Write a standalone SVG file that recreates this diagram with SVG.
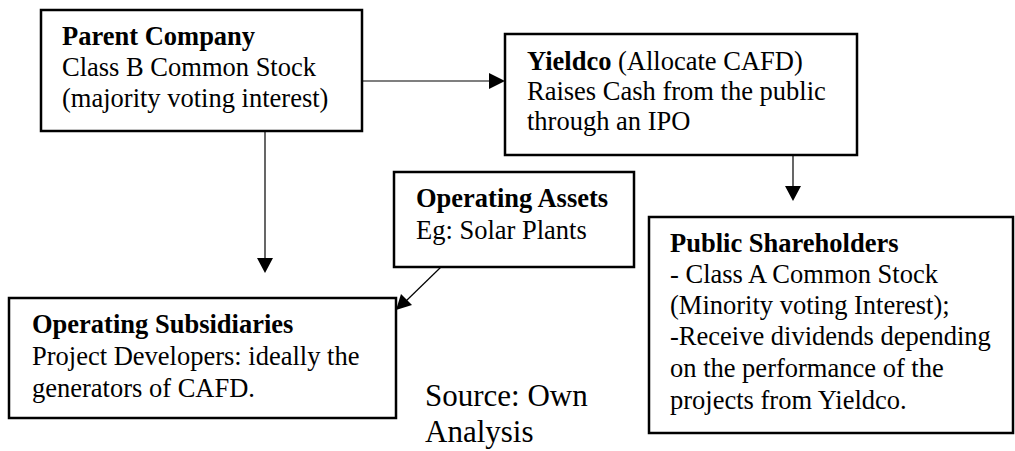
<svg xmlns="http://www.w3.org/2000/svg" width="1015" height="451" viewBox="0 0 1015 451">
<defs>
<style>
.box{fill:#fff;stroke:#000;stroke-width:2.5}
.t{font-family:"Liberation Serif","Times New Roman",serif;font-size:26.5px;fill:#000}
.b{font-weight:bold}
.ln{stroke:#000;stroke-width:1.2;fill:none}
.hd{fill:#000}
</style>
</defs>
<rect width="1015" height="451" fill="#fff"/>
<g id="connectors">
<line class="ln" x1="362" y1="81" x2="492" y2="81"/>
<path class="hd" d="M489,73 L505,81 L489,89 Z"/>
<line class="ln" x1="265" y1="131" x2="265" y2="260"/>
<path class="hd" d="M257,258 L265,273 L273,258 Z"/>
<line class="ln" x1="793" y1="155" x2="793" y2="188"/>
<path class="hd" d="M785,186 L793,201 L801,186 Z"/>
<line class="ln" x1="441" y1="267" x2="405" y2="302"/>
<path class="hd" d="M396,310 L401,294 L412,305 Z"/>
</g>
<g id="parent">
<rect class="box" x="41" y="10" width="321" height="121"/>
<text class="t" x="62" y="45"><tspan class="b">Parent Company</tspan><tspan x="62" y="76">Class B Common Stock</tspan><tspan x="62" y="107">(majority voting interest)</tspan></text>
</g>
<g id="yieldco">
<rect class="box" x="505" y="34" width="352" height="121"/>
<text class="t" x="527" y="70"><tspan class="b">Yieldco</tspan> (Allocate CAFD)<tspan x="527" y="100">Raises Cash from the public</tspan><tspan x="527" y="130">through an IPO</tspan></text>
</g>
<g id="assets">
<rect class="box" x="394" y="172" width="240" height="95"/>
<text class="t" x="416" y="207"><tspan class="b">Operating Assets</tspan><tspan x="416" y="239">Eg: Solar Plants</tspan></text>
</g>
<g id="subsidiaries">
<rect class="box" x="9" y="298" width="387" height="120"/>
<text class="t" x="32" y="333"><tspan class="b">Operating Subsidiaries</tspan><tspan x="32" y="365">Project Developers: ideally the</tspan><tspan x="32" y="397">generators of CAFD.</tspan></text>
</g>
<g id="public">
<rect class="box" x="649" y="217" width="364" height="216"/>
<text class="t" x="670" y="252"><tspan class="b">Public Shareholders</tspan><tspan x="670" y="283">- Class A Common Stock</tspan><tspan x="670" y="314">(Minority voting Interest);</tspan><tspan x="670" y="345">-Receive dividends depending</tspan><tspan x="670" y="377">on the performance of the</tspan><tspan x="670" y="409">projects from Yieldco.</tspan></text>
</g>
<g id="source">
<text class="t" style="font-size:31px" x="425" y="406">Source: Own<tspan x="425" y="442">Analysis</tspan></text>
</g>
</svg>
